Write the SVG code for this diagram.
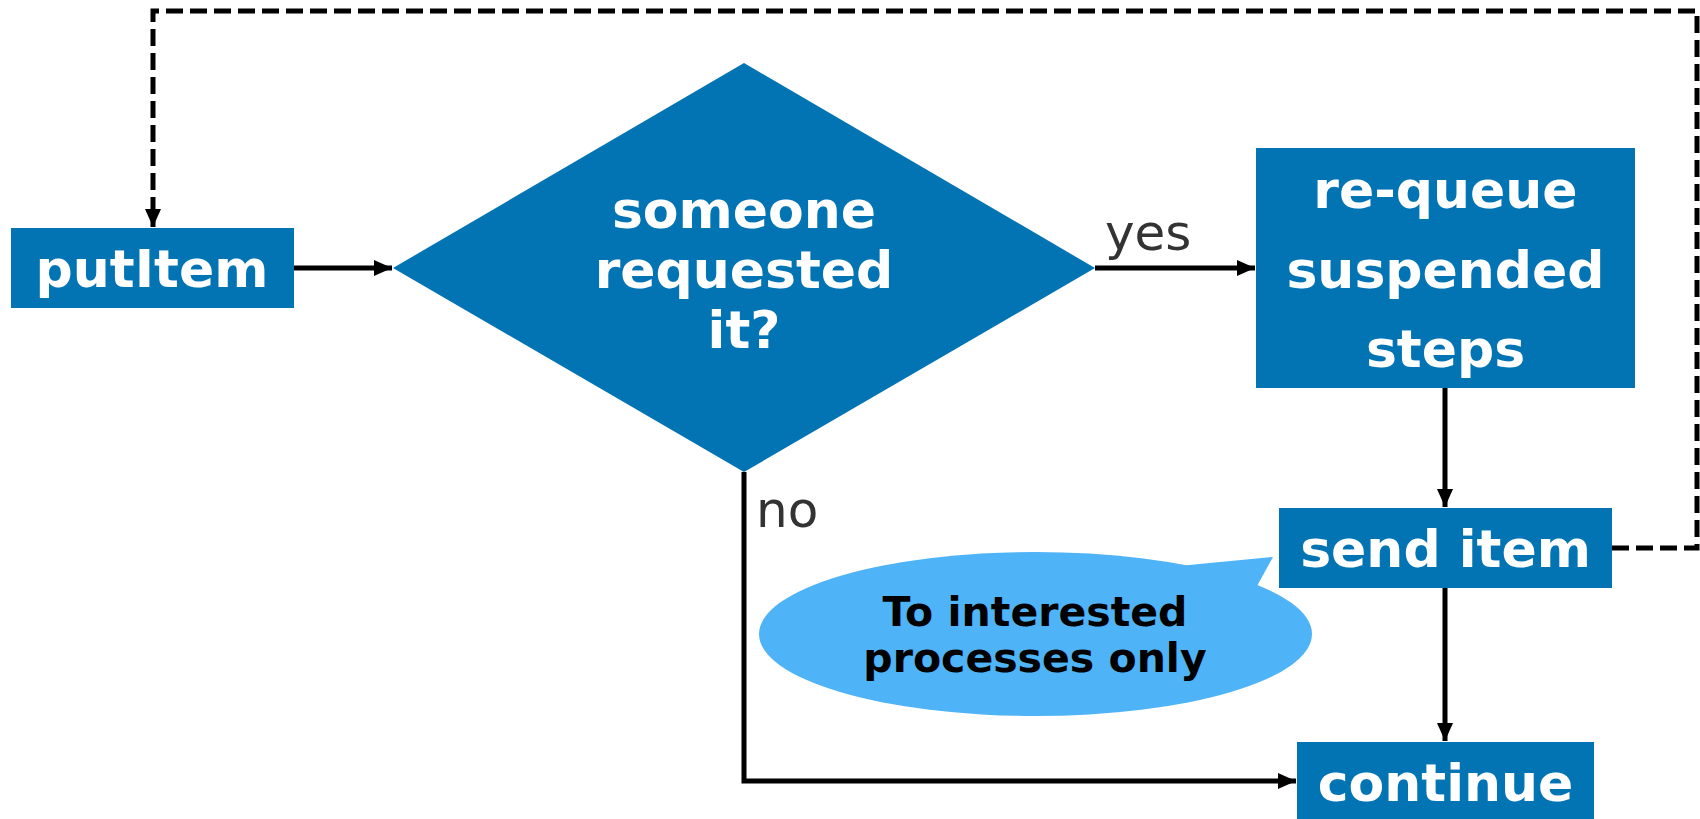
<svg xmlns="http://www.w3.org/2000/svg" width="1700" height="819" viewBox="0 0 1700 819">
<defs>
<style>
.node{fill:#0274b4}
.nt{font-family:"DejaVu Sans",Verdana,sans-serif;font-weight:bold;font-size:52px;fill:#ffffff;text-anchor:middle}
.lbl{font-family:"DejaVu Sans",Verdana,sans-serif;font-size:50px;fill:#333333}
.bt{font-family:"DejaVu Sans",Verdana,sans-serif;font-weight:bold;font-size:41px;fill:#000000;text-anchor:middle}
.edge{fill:none;stroke:#000;stroke-width:5}
.dash{stroke-dasharray:17 7}
</style>
<marker id="arr" viewBox="0 0 18 18" refX="18" refY="9" markerWidth="18" markerHeight="18" markerUnits="userSpaceOnUse" orient="auto">
<path d="M0,1 L18,9 L0,17 Z" fill="#000"/>
</marker>
</defs>
<rect width="1700" height="819" fill="#ffffff"/>
<g id="connectors">
<path class="edge" d="M294,268 L392,268" marker-end="url(#arr)"/>
<path class="edge" d="M1095,268 L1255,268" marker-end="url(#arr)"/>
<path class="edge" d="M1445,388 L1445,507" marker-end="url(#arr)"/>
<path class="edge" d="M1445,588 L1445,741" marker-end="url(#arr)"/>
<path class="edge" d="M744,472 L744,781 L1296,781" marker-end="url(#arr)"/>
<path class="edge dash" d="M1612,548 L1697,548 L1697,11 L153,11 L153,227" marker-end="url(#arr)"/>
<text class="lbl" x="1105" y="250">yes</text>
<text class="lbl" x="756" y="527">no</text>
</g>
<g id="putItem">
<rect class="node" x="11" y="228" width="283" height="80"/>
<text class="nt" x="152" y="287">putItem</text>
</g>
<g id="decision">
<polygon class="node" points="393,268 744,63 1095,268 744,472"/>
<text class="nt" x="744" y="228">someone</text>
<text class="nt" x="744" y="288">requested</text>
<text class="nt" x="744" y="348">it?</text>
</g>
<g id="requeue">
<rect class="node" x="1256" y="148" width="379" height="240"/>
<text class="nt" x="1445.5" y="208">re-queue</text>
<text class="nt" x="1445.5" y="288">suspended</text>
<text class="nt" x="1445.5" y="367">steps</text>
</g>
<g id="senditem">
<rect class="node" x="1279" y="508" width="333" height="80"/>
<text class="nt" x="1445.5" y="567">send item</text>
</g>
<g id="continue">
<rect class="node" x="1297" y="742" width="297" height="80"/>
<text class="nt" x="1445.5" y="801">continue</text>
</g>
<g id="note">
<path d="M1179,566 L1273,557 L1257,586 Z" fill="#4fb3f7"/>
<ellipse cx="1035.5" cy="634" rx="276.5" ry="82" fill="#4fb3f7"/>
<text class="bt" x="1035" y="626">To interested</text>
<text class="bt" x="1035" y="672">processes only</text>
</g>
</svg>
